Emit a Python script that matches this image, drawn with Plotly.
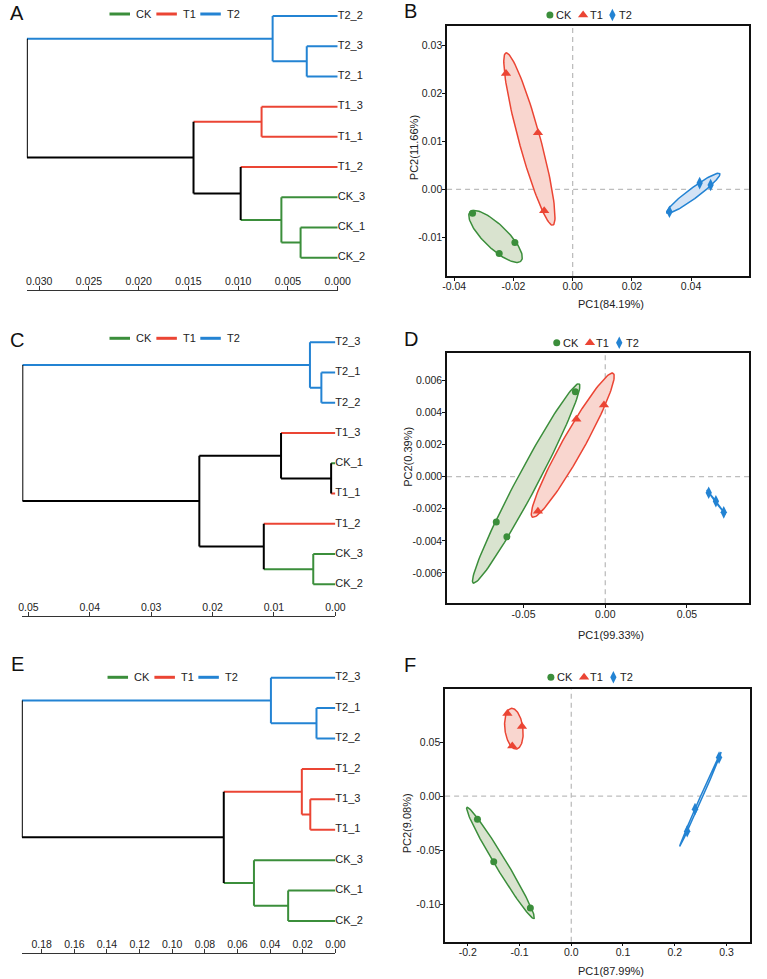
import numpy as np
import plotly.graph_objects as go

W, H = 767, 979
FONT = "Liberation Sans, Arial, sans-serif"

# ---------------- groups / styling ----------------
GROUPS = ["CK", "T1", "T2"]
GROUP_COLORS = ["#3b8e3b", "#eb4534", "#2383d3"]
GROUP_FILLS = ["#d9e3cf", "#f9d6cf", "#d4e3f5"]
GROUP_SYMBOLS = ["circle", "triangle-up", "diamond-tall"]
COL = dict(zip(GROUPS, GROUP_COLORS))
FIL = dict(zip(GROUPS, GROUP_FILLS))
SYM = dict(zip(GROUPS, GROUP_SYMBOLS))
MSIZE = {"circle": 7, "triangle-up": 9, "diamond-tall": 9}

# ---------------- Panel A (dendrogram) ----------------
A_leaves = ["T2_2", "T2_3", "T2_1", "T1_3", "T1_1", "T1_2", "CK_3", "CK_1", "CK_2"]
A_merges = [
    ("a1", "T2_3", "T2_1", 0.00311),
    ("a2", "T2_2", "a1", 0.00654),
    ("a3", "T1_3", "T1_1", 0.00765),
    ("a4", "CK_1", "CK_2", 0.00373),
    ("a5", "CK_3", "a4", 0.00566),
    ("a6", "T1_2", "a5", 0.00975),
    ("a7", "a3", "a6", 0.01449),
    ("a8", "a2", "a7", 0.03124),
]
A_ticks = [0.030, 0.025, 0.020, 0.015, 0.010, 0.005, 0.000]

# ---------------- Panel C (dendrogram) ----------------
C_leaves = ["T2_3", "T2_1", "T2_2", "T1_3", "CK_1", "T1_1", "T1_2", "CK_3", "CK_2"]
C_merges = [
    ("c1", "T2_1", "T2_2", 0.00228),
    ("c2", "T2_3", "c1", 0.00414),
    ("c3", "CK_1", "T1_1", 0.00069),
    ("c4", "T1_3", "c3", 0.00885),
    ("c5", "CK_3", "CK_2", 0.00360),
    ("c6", "T1_2", "c5", 0.01166),
    ("c7", "c4", "c6", 0.02216),
    ("c8", "c2", "c7", 0.05100),
]
C_ticks = [0.05, 0.04, 0.03, 0.02, 0.01, 0.00]

# ---------------- Panel E (dendrogram) ----------------
E_leaves = ["T2_3", "T2_1", "T2_2", "T1_2", "T1_3", "T1_1", "CK_3", "CK_1", "CK_2"]
E_merges = [
    ("e1", "T2_1", "T2_2", 0.01157),
    ("e2", "T2_3", "e1", 0.03950),
    ("e3", "T1_3", "T1_1", 0.01537),
    ("e4", "T1_2", "e3", 0.02055),
    ("e5", "CK_1", "CK_2", 0.02894),
    ("e6", "CK_3", "e5", 0.04990),
    ("e7", "e4", "e6", 0.06840),
    ("e8", "e2", "e7", 0.19220),
]
E_ticks = [0.18, 0.16, 0.14, 0.12, 0.10, 0.08, 0.06, 0.04, 0.02, 0.00]

# ---------------- Panel B (PCA) ----------------
B_pc1 = {"CK": [-0.0338, -0.0248, -0.0195], "T1": [-0.0225, -0.0117, -0.0096], "T2": [0.0327, 0.0429, 0.0466]}
B_pc2 = {"CK": [-0.0050, -0.0134, -0.0111], "T1": [0.0242, 0.0118, -0.0045], "T2": [-0.0047, 0.0013, 0.0009]}
B_titles = ["PC1(84.19%)", "PC2(11.66%)"]
B_xticks = [-0.04, -0.02, 0.00, 0.02, 0.04]
B_yticks = [-0.01, 0.00, 0.01, 0.02, 0.03]

# ---------------- Panel D (PCA) ----------------
D_pc1 = {"CK": [-0.0183, -0.0667, -0.0602], "T1": [-0.0177, -0.0008, -0.0412], "T2": [0.0633, 0.0677, 0.0725]}
D_pc2 = {"CK": [0.00530, -0.00282, -0.00374], "T1": [0.00358, 0.00447, -0.00216], "T2": [-0.00100, -0.00153, -0.00222]}
D_titles = ["PC1(99.33%)", "PC2(0.39%)"]
D_xticks = [-0.05, 0.00, 0.05]
D_yticks = [-0.006, -0.004, -0.002, 0.000, 0.002, 0.004, 0.006]

# ---------------- Panel F (PCA) ----------------
F_pc1 = {"CK": [-0.1814, -0.1499, -0.0791], "T1": [-0.1235, -0.0953, -0.1141], "T2": [0.2241, 0.2392, 0.2857]}
F_pc2 = {"CK": [-0.0213, -0.0608, -0.1037], "T1": [0.0766, 0.0645, 0.0466], "T2": [-0.0324, -0.0120, 0.0358]}
F_titles = ["PC1(87.99%)", "PC2(9.08%)"]
F_xticks = [-0.2, -0.1, 0.0, 0.1, 0.2, 0.3]
F_yticks = [-0.10, -0.05, 0.00, 0.05]

ELLIPSE_K = 1.25


def px_x(p):
    return p / W


def px_y(p):
    return 1 - p / H


def fmt(v, d):
    s = f"{v:.{d}f}"
    if s.startswith("-") and float(s) == 0:
        s = s[1:]
    return s


fig = go.Figure()
annotations = []
shapes = []

# ---------------- dendrograms ----------------
DEND = [
    dict(leaves=A_leaves, merges=A_merges, ticks=A_ticks, dec=3, ax="", zero_px=340.7, px_per=305.7 / 0.03,
         leaf_top=16.0, step=30.21, axis_y=290.0, letter="A", letter_xy=(3, 13), leg=(107, 14)),
    dict(leaves=C_leaves, merges=C_merges, ticks=C_ticks, dec=2, ax="3", zero_px=338.3, px_per=314.3 / 0.05,
         leaf_top=342.3, step=30.25, axis_y=616.0, letter="C", letter_xy=(3, 340), leg=(107, 338.3)),
    dict(leaves=E_leaves, merges=E_merges, ticks=E_ticks, dec=2, ax="5", zero_px=338.3, px_per=300.7 / 0.18,
         leaf_top=677.7, step=30.41, axis_y=952.7, letter="E", letter_xy=(4, 664), leg=(105, 677.3)),
]

for d in DEND:
    pos = {lf: i + 1 for i, lf in enumerate(d["leaves"])}
    hgt = {lf: 0.0 for lf in d["leaves"]}
    grp = {lf: lf.split("_")[0] for lf in d["leaves"]}
    segs = {}

    def add(color, xs, ys):
        sx, sy = segs.setdefault(color, ([], []))
        sx.extend(xs + [None])
        sy.extend(ys + [None])

    for name, l, r, h in d["merges"]:
        pos[name] = (pos[l] + pos[r]) / 2
        hgt[name] = h
        grp[name] = grp[l] if grp[l] == grp[r] else None
        for c in (l, r):
            ccol = COL[grp[c]] if grp[c] else "#000000"
            add(ccol, [h, hgt[c]], [pos[c], pos[c]])
        ncol = COL[grp[name]] if grp[name] else "#000000"
        add(ncol, [h, h], [pos[l], pos[r]])

    xa = "x" + d["ax"]
    ya = "y" + d["ax"]
    order = [c for c in GROUP_COLORS if c in segs] + (["#000000"] if "#000000" in segs else [])
    for color in order:
        sx, sy = segs[color]
        fig.add_trace(go.Scatter(x=sx, y=sy, mode="lines", line=dict(color=color, width=2),
                                 xaxis=xa, yaxis=ya, showlegend=False, hoverinfo="skip"))
    fig.add_trace(go.Scatter(x=[0.0] * len(d["leaves"]), y=[pos[lf] for lf in d["leaves"]],
                             text=d["leaves"], mode="text", textposition="middle right",
                             textfont=dict(family=FONT, size=11, color="#222222"),
                             xaxis=xa, yaxis=ya, showlegend=False, hoverinfo="skip", cliponaxis=False))

    root_h = max(m[3] for m in d["merges"])
    left_px = d["zero_px"] - root_h * d["px_per"]
    ytop = d["leaf_top"] - d["step"] / 2
    ybot = d["leaf_top"] + (len(d["leaves"]) - 0.5) * d["step"]
    xkey = "xaxis" + d["ax"]
    ykey = "yaxis" + d["ax"]
    fig.layout[xkey] = dict(domain=[px_x(left_px), px_x(d["zero_px"])], range=[root_h, 0],
                            anchor="free", position=px_y(d["axis_y"]), side="top",
                            showline=True, linecolor="#333333", linewidth=1,
                            ticks="outside", ticklen=4, tickcolor="#333333", tickwidth=1,
                            tickvals=d["ticks"], ticktext=[fmt(t, d["dec"]) for t in d["ticks"]],
                            tickfont=dict(family=FONT, size=10.5, color="#222222"),
                            ticklabelstandoff=-3,
                            showgrid=False, zeroline=False, fixedrange=True)
    fig.layout[ykey] = dict(domain=[px_y(ybot), px_y(ytop)], range=[len(d["leaves"]) + 0.5, 0.5],
                            visible=False, anchor=xa, fixedrange=True)
    annotations.append(dict(x=px_x(d["letter_xy"][0]), y=px_y(d["letter_xy"][1]), xref="paper", yref="paper",
                            text=d["letter"], showarrow=False, xanchor="left", yanchor="middle",
                            font=dict(family=FONT, size=20, color="#111111")))
    # legend (line samples)
    lx, ly = d["leg"]
    for g, off in zip(GROUPS, [0, 48, 93]):
        fig.add_trace(go.Scatter(x=[lx + off, lx + off + 21], y=[ly, ly], mode="lines",
                                 line=dict(color=COL[g], width=3), xaxis="x7", yaxis="y7",
                                 showlegend=False, hoverinfo="skip"))
        annotations.append(dict(x=px_x(lx + off + 25), y=px_y(ly), xref="paper", yref="paper", text=g,
                                showarrow=False, xanchor="left", yanchor="middle",
                                font=dict(family=FONT, size=11, color="#222222")))

# ---------------- PCA panels ----------------
PCA = [
    dict(pc1=B_pc1, pc2=B_pc2, titles=B_titles, xt=B_xticks, yt=B_yticks, xd=2, yd=2, ax="2",
         xpx=(452.7, 761.7), ypx=(26, 276), xr=(-0.0424, 0.0595), yr=(-0.0181, 0.0341),
         letter="B", letter_xy=(407, 11), leg=(558, 15), xtitle_y=304, ytitle_xy=(419, 148)),
    dict(pc1=D_pc1, pc2=D_pc2, titles=D_titles, xt=D_xticks, yt=D_yticks, xd=2, yd=3, ax="4",
         xpx=(452.7, 762.3), ypx=(352.7, 603.3), xr=(-0.0968, 0.0882), yr=(-0.00789, 0.00773),
         letter="D", letter_xy=(407, 339.5), leg=(565, 342.7), xtitle_y=635, ytitle_xy=(412.5, 457)),
    dict(pc1=F_pc1, pc2=F_pc2, titles=F_titles, xt=F_xticks, yt=F_yticks, xd=1, yd=2, ax="6",
         xpx=(450.7, 763.3), ypx=(689.3, 941.7), xr=(-0.2439, 0.3463), yr=(-0.1349, 0.0991),
         letter="F", letter_xy=(407, 665), leg=(559, 677.3), xtitle_y=970.7, ytitle_xy=(412, 823)),
]

for p in PCA:
    xa = "x" + p["ax"]
    ya = "y" + p["ax"]
    for g in GROUPS:
        xs = np.array(p["pc1"][g])
        ys = np.array(p["pc2"][g])
        pts = np.column_stack([xs, ys])
        mu = pts.mean(axis=0)
        cov = np.cov(pts.T)
        vals, vecs = np.linalg.eigh(cov)
        vals = np.clip(vals, 0, None)
        t = np.linspace(0, 2 * np.pi, 120)
        circ = np.column_stack([np.cos(t), np.sin(t)]) * (ELLIPSE_K * np.sqrt(vals))
        ell = mu + circ @ vecs.T
        fig.add_trace(go.Scatter(x=ell[:, 0], y=ell[:, 1], mode="lines", fill="toself",
                                 fillcolor=FIL[g], line=dict(color=COL[g], width=1.5),
                                 xaxis=xa, yaxis=ya, showlegend=False, hoverinfo="skip"))
    for g in GROUPS:
        fig.add_trace(go.Scatter(x=p["pc1"][g], y=p["pc2"][g], mode="markers", name=g,
                                 marker=dict(symbol=SYM[g], color=COL[g], size=MSIZE[SYM[g]]),
                                 xaxis=xa, yaxis=ya, showlegend=False))
    common = dict(showline=True, mirror=True, linecolor="#111111", linewidth=1.5, ticks="outside",
                  ticklen=3, tickwidth=1, tickcolor="#111111", showgrid=False, zeroline=False,
                  tickfont=dict(family=FONT, size=10.5, color="#222222"), fixedrange=True)
    fig.layout["xaxis" + p["ax"]] = dict(domain=[px_x(p["xpx"][0]), px_x(p["xpx"][1])], range=list(p["xr"]),
                                         anchor=ya, tickvals=p["xt"], ticktext=[fmt(v, p["xd"]) for v in p["xt"]],
                                         ticklabelstandoff=-3, **common)
    fig.layout["yaxis" + p["ax"]] = dict(domain=[px_y(p["ypx"][1]), px_y(p["ypx"][0])], range=list(p["yr"]),
                                         anchor=xa, tickvals=p["yt"], ticktext=[fmt(v, p["yd"]) for v in p["yt"]],
                                         ticklabelstandoff=-2, **common)
    dash = dict(color="#bdbdbd", width=1.3, dash="5px,4px")
    shapes.append(dict(type="line", xref=xa, yref=ya + " domain", x0=0, x1=0, y0=0, y1=1, line=dash, layer="below"))
    shapes.append(dict(type="line", xref=xa + " domain", yref=ya, x0=0, x1=1, y0=0, y1=0, line=dash, layer="below"))
    annotations.append(dict(x=px_x(621), y=px_y(p["xtitle_y"]), xref="paper", yref="paper", text=p["titles"][0],
                            showarrow=False, xanchor="center", yanchor="middle",
                            font=dict(family=FONT, size=11, color="#222222")))
    annotations.append(dict(x=px_x(p["ytitle_xy"][0]), y=px_y(p["ytitle_xy"][1]), xref="paper", yref="paper",
                            text=p["titles"][1], textangle=-90, showarrow=False, xanchor="center",
                            yanchor="middle", font=dict(family=FONT, size=11, color="#222222")))
    annotations.append(dict(x=px_x(p["letter_xy"][0]), y=px_y(p["letter_xy"][1]), xref="paper", yref="paper",
                            text=p["letter"], showarrow=False, xanchor="left", yanchor="middle",
                            font=dict(family=FONT, size=20, color="#111111")))
    lx, ly = p["leg"]
    for g, off in zip(GROUPS, [0, 34, 64]):
        fig.add_trace(go.Scatter(x=[lx + off], y=[ly], mode="markers",
                                 marker=dict(symbol=SYM[g], color=COL[g], size=MSIZE[SYM[g]]),
                                 xaxis="x7", yaxis="y7", showlegend=False, hoverinfo="skip"))
        annotations.append(dict(x=px_x(lx + off + 4.5), y=px_y(ly), xref="paper", yref="paper", text=g,
                                showarrow=False, xanchor="left", yanchor="middle",
                                font=dict(family=FONT, size=11, color="#222222")))

# overlay axis in pixel units for legend glyphs
fig.layout["xaxis7"] = dict(domain=[0, 1], range=[0, W], visible=False, anchor="y7", fixedrange=True)
fig.layout["yaxis7"] = dict(domain=[0, 1], range=[H, 0], visible=False, anchor="x7", fixedrange=True)

fig.update_layout(width=W, height=H, autosize=False, margin=dict(l=0, r=0, t=0, b=0),
                  paper_bgcolor="white", plot_bgcolor="rgba(0,0,0,0)",
                  showlegend=False, annotations=annotations, shapes=shapes,
                  font=dict(family=FONT, color="#222222"))

fig.write_html("out.html")
